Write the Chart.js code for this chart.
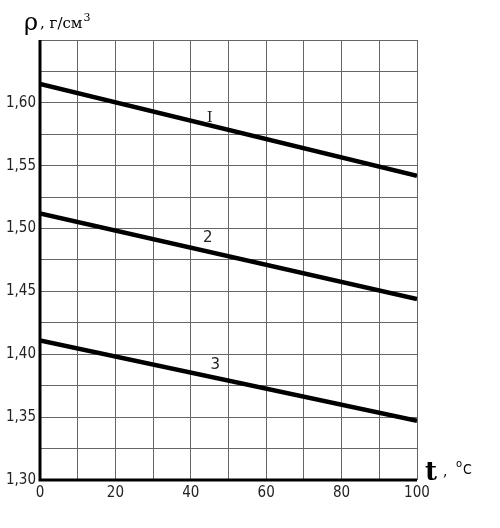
<!DOCTYPE html>
<html>
<head>
<meta charset="utf-8">
<script src="https://cdn.jsdelivr.net/npm/chart.js@4"></script>
<style>
  html, body { margin: 0; padding: 0; background: #fff; }
  #wrap { width: 500px; height: 528px; }
</style>
</head>
<body>
<div id="wrap"><canvas id="rhoChart" width="500" height="528"></canvas></div>
<script>
// temperature, °C
const temps = [0, 100];
// density, g/cm3
const curve1 = [1.615, 1.542];
const curve2 = [1.512, 1.444];
const curve3 = [1.411, 1.347];
const curveNames = ['I', '2', '3'];
const nameX = [45, 44.5, 46.5];
const nameY = [1.588, 1.4925, 1.3915];

const tickFont = "'Liberation Sans Narrow', 'DejaVu Sans Condensed', sans-serif";

function pts(vals) {
  return temps.map((t, i) => ({ x: t, y: vals[i] }));
}

const labelsPlugin = {
  id: 'labelsPlugin',
  afterDraw(chart) {
    const ctx = chart.ctx;
    const xs = chart.scales.x, ys = chart.scales.y;
    const area = chart.chartArea;
    ctx.save();
    // thick axes
    ctx.strokeStyle = '#000';
    ctx.lineWidth = 3;
    ctx.beginPath();
    ctx.moveTo(area.left, area.top);
    ctx.lineTo(area.left, area.bottom);
    ctx.lineTo(area.right, area.bottom);
    ctx.stroke();
    // curve numbers
    ctx.fillStyle = '#222';
    ctx.textAlign = 'center';
    ctx.textBaseline = 'bottom';
    curveNames.forEach((n, i) => {
      ctx.font = i === 0 ? "15px 'DejaVu Serif', serif" : "15px 'DejaVu Sans', sans-serif";
      ctx.fillText(n, xs.getPixelForValue(nameX[i]), ys.getPixelForValue(nameY[i]) + 8);
    });
    // y axis title
    ctx.textAlign = 'left';
    ctx.textBaseline = 'alphabetic';
    ctx.fillStyle = '#000';
    ctx.font = "24px 'DejaVu Serif', serif";
    ctx.fillText('ρ', area.left - 16, area.top - 10);
    ctx.font = "15px 'DejaVu Serif', serif";
    ctx.fillText(', г/см', area.left, area.top - 12);
    const w = ctx.measureText(', г/см').width;
    ctx.font = "11px 'DejaVu Serif', serif";
    ctx.fillText('3', area.left + w + 1, area.top - 19);
    // x axis title
    ctx.font = "bold 26px 'DejaVu Serif', serif";
    ctx.fillText('t', area.right + 8, area.bottom);
    ctx.font = "14px 'DejaVu Serif', serif";
    ctx.fillText(',', area.right + 26, area.bottom - 4);
    ctx.font = "10px 'DejaVu Sans', sans-serif";
    ctx.fillText('o', area.right + 39, area.bottom - 13);
    ctx.font = "14px 'DejaVu Sans Condensed', sans-serif";
    ctx.fillText('C', area.right + 46, area.bottom - 6);
    ctx.restore();
  }
};

const ctx = document.getElementById('rhoChart');
new Chart(ctx, {
  type: 'line',
  data: {
    datasets: [
      { label: 'I', data: pts(curve1) },
      { label: '2', data: pts(curve2) },
      { label: '3', data: pts(curve3) }
    ]
  },
  options: {
    responsive: false,
    animation: false,
    layout: { padding: { top: 40, right: 83, left: 0, bottom: 0 } },
    elements: {
      line: { borderColor: '#000', borderWidth: 4.5, tension: 0 },
      point: { radius: 0 }
    },
    scales: {
      x: {
        type: 'linear',
        min: 0, max: 100,
        afterFit(s) { s.height = 48; },
        grid: { color: '#666', lineWidth: 1, drawTicks: false },
        border: { display: false },
        ticks: {
          stepSize: 10,
          autoSkip: false,
          maxRotation: 0,
          padding: 4,
          color: '#222',
          font: { family: tickFont, size: 15 },
          callback: v => (v % 20 === 0 ? String(v) : '')
        }
      },
      y: {
        min: 1.30, max: 1.65,
        afterFit(s) { s.width = 40; },
        grid: { color: '#666', lineWidth: 1, drawTicks: false },
        border: { display: false },
        ticks: {
          stepSize: 0.025,
          autoSkip: false,
          padding: 4,
          color: '#222',
          font: { family: tickFont, size: 15 },
          callback: v => {
            const k = Math.round(v * 1000);
            if (k % 50 !== 0 || k >= 1650) return '';
            return (k / 1000).toFixed(2).replace('.', ',');
          }
        }
      }
    },
    plugins: {
      legend: { display: false },
      tooltip: { enabled: false }
    }
  },
  plugins: [labelsPlugin]
});
</script>
</body>
</html>
